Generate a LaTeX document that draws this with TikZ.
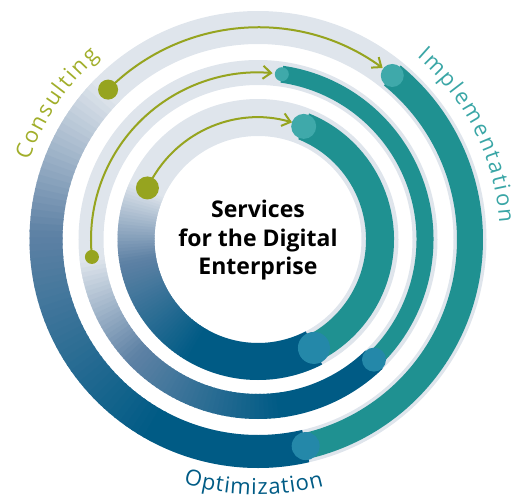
\documentclass[tikz,border=0pt]{standalone}
\usepackage{fontspec}
\setmainfont{Open Sans}
\usetikzlibrary{arrows.meta,decorations.text}

\definecolor{ringgray}{HTML}{DFE5EC}
\definecolor{optslate}{HTML}{5F82A5}
\definecolor{optblue}{HTML}{005B85}
\definecolor{optdot}{HTML}{2488A9}
\definecolor{impteal}{HTML}{1F9191}
\definecolor{implight}{HTML}{3FA9AA}
\definecolor{implabel}{HTML}{3AA6A6}
\definecolor{consgreen}{HTML}{96A41F}
\definecolor{conslabel}{HTML}{A1AE2A}

\newcommand{\ringlabel}{\fontsize{22}{22}\selectfont}

\tikzstyle{track}=[draw=ringgray]
\tikzstyle{opt-band}=[draw=optblue]
\tikzstyle{impl-band}=[draw=impteal]
\tikzstyle{flow}=[draw=consgreen, line width=2pt,
                  -{Straight Barb[length=8pt,width=13pt]}]
\tikzstyle{cons-dot}=[circle, fill=consgreen, inner sep=0pt]
\tikzstyle{opt-dot}=[circle, fill=optdot, inner sep=0pt]
\tikzstyle{impl-cap}=[circle, fill=implight, inner sep=0pt]
\tikzstyle{hub}=[align=center, font=\bfseries\fontsize{23}{28.5}\selectfont]

\begin{document}
\begin{tikzpicture}
    \useasboundingbox (-258pt,-259.5pt) rectangle (263pt,239.5pt);
    % First we draw the three rings, outer to inner
    \foreach \name/\R/\W/\T/\A/\P/\S/\E/\g/\b/\f in
      {outer/212/33/26/135/54/50.7/283/10/14/0.72,
       middle/167/25/17/186/85/81.8/314/7/12/0.72,
       inner/122/37/28/155/73.8/68/297.3/11.5/16/0.6}
    {
      \pgfmathsetmacro\G{\f*(\E-\A)}
      \pgfmathsetmacro\Z{\A+\G}
      \pgfmathsetmacro\F{\E-360}
      \pgfmathsetmacro\c{\T-3}
      \pgfmathsetmacro\gd{2*\g}
      \pgfmathsetmacro\bd{2*\b}
      \draw[track, line width=\W pt] (0pt,0pt) circle[radius=\R pt];
      % fade from the track into blue
      \foreach \k in {0,...,59} {
        \pgfmathsetmacro\u{\A+\k*\G/60}
        \pgfmathsetmacro\v{\u+\G/60+0.5}
        \pgfmathsetmacro\p{min(250*\k/59,100)}
        \pgfmathsetmacro\q{max((\k/59-0.4)/0.6*100,0)}
        \colorlet{fadeA}{optslate!\p!ringgray}
        \colorlet{fadeB}{optblue!\q!fadeA}
        \draw[draw=fadeB, line width=\W pt]
          (\u:\R pt) arc[start angle=\u, end angle=\v, radius=\R pt];
      }
      \draw[opt-band, line width=\W pt]
        (\Z:\R pt) arc[start angle=\Z, end angle=\E, radius=\R pt];
      \draw[impl-band, line width=\T pt]
        (\S:\R pt) arc[start angle=\S, end angle=\F, radius=\R pt];
      \node[impl-cap, minimum size=\c pt] (impl-\name) at (\S:\R pt) {};
      % Then the dots and the arrows between them
      \node[cons-dot, minimum size=\gd pt] (cons-\name) at (\A:\R pt) {};
      \draw[flow] (cons-\name.center) arc[start angle=\A, end angle=\P, radius=\R pt];
      \node[opt-dot, minimum size=\bd pt] (opt-\name) at (\E:\R pt) {};
    }
    % Labels round the outer ring
    \path[decorate, decoration={text along path, text={|\ringlabel|Consulting},
        text color=conslabel, text align=fit to path}]
      (161:242pt) arc[start angle=161, end angle=131, radius=242pt];
    \path[decorate, decoration={text along path, text={|\ringlabel|Implementation},
        text color=implabel, text align=fit to path}]
      (49:242pt) arc[start angle=49, end angle=4, radius=242pt];
    \path[decorate, decoration={text along path, text={|\ringlabel|Optimization},
        text color=optblue, text align=fit to path}]
      (253:255pt) arc[start angle=253, end angle=285, radius=255pt];
    \node[hub] (hub) at (0pt,-1pt) {Services\\for the Digital\\Enterprise};
\end{tikzpicture}
\end{document}
